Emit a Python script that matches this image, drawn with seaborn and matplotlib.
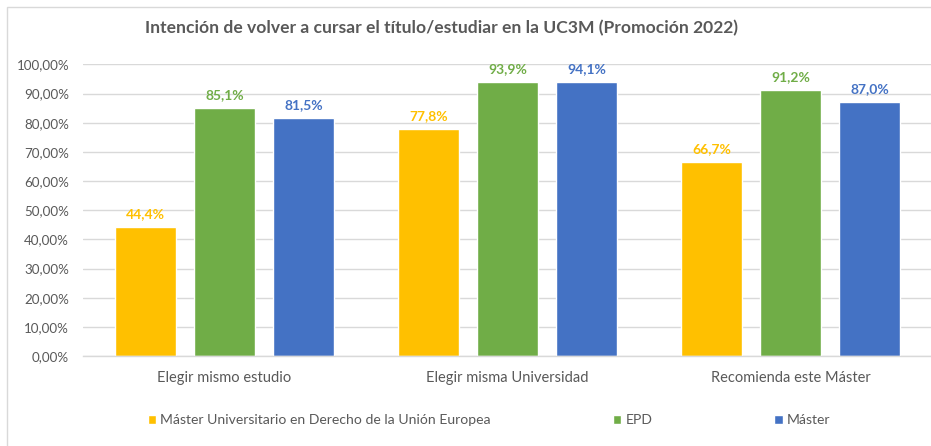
import matplotlib
matplotlib.use("Agg")
import matplotlib.pyplot as plt
import seaborn as sns
import pandas as pd
from matplotlib.patches import Rectangle

categories = ["Elegir mismo estudio", "Elegir misma Universidad", "Recomienda este Máster"]
series_names = ["Máster Universitario en Derecho de la Unión Europea", "EPD", "Máster"]
mude = [44.4, 77.8, 66.7]
epd = [85.1, 93.9, 91.2]
master = [81.5, 94.1, 87.0]
yticks = [0, 10, 20, 30, 40, 50, 60, 70, 80, 90, 100]
title = "Intención de volver a cursar el título/estudiar en la UC3M (Promoción 2022)"

colors = ["#FFC000", "#70AD47", "#4472C4"]

rows = []
for name, vals in zip(series_names, [mude, epd, master]):
    for c, v in zip(categories, vals):
        rows.append({"cat": c, "serie": name, "val": v / 100.0})
df = pd.DataFrame(rows)

sns.set_theme(style="white")
plt.rcParams["font.family"] = ["Lato", "DejaVu Sans"]

fig = plt.figure(figsize=(9.31, 4.46), dpi=100)
ax = fig.add_axes([83 / 931, 1 - 356 / 446, (932 - 83) / 931, (356 - 64.5) / 446])

sns.barplot(data=df, x="cat", y="val", hue="serie", palette=colors,
            width=0.837, gap=0.22, ax=ax, legend=True, saturation=1)

ax.set_ylim(0, 1.0)
ax.set_xlim(-0.5, 2.5)
ax.set_yticks([t / 100 for t in yticks])
ax.set_yticklabels([f"{t},00%" for t in yticks])
ax.yaxis.grid(True, color="#D9D9D9", linewidth=1)
ax.set_axisbelow(True)
for s in ["top", "right", "left"]:
    ax.spines[s].set_visible(False)
ax.spines["bottom"].set_color("#D9D9D9")
ax.spines["bottom"].set_linewidth(1)
ax.tick_params(axis="y", length=0, pad=10, labelsize=9.6, labelcolor="#595959")
ax.tick_params(axis="x", length=0, pad=11, labelsize=10.5, labelcolor="#595959")
ax.set_xlabel("")
ax.set_ylabel("")

for cont, col in zip(ax.containers, colors):
    labels = [f"{b.get_height()*100:.1f}%".replace(".", ",") for b in cont]
    ax.bar_label(cont, labels=labels, padding=5, color=col, fontsize=10, fontweight="bold")

handles, labs = ax.get_legend_handles_labels()
ax.get_legend().remove()
fig.legend(handles, labs, loc="center left", bbox_to_anchor=(135 / 931, 1 - 420 / 446),
           ncol=3, frameon=False, fontsize=10.1, handlelength=0.6, handleheight=0.6,
           handletextpad=0.3, columnspacing=8.7, labelcolor="#595959")

fig.text(441.5 / 931, 1 - 28 / 446, title, ha="center", va="center",
         fontsize=12.6, fontweight="bold", color="#595959")

fig.patches.append(Rectangle((7 / 931, -0.05), 1.0, 1 - 7 / 446 + 0.05,
                             transform=fig.transFigure, fill=False,
                             edgecolor="#D9D9D9", linewidth=1))

fig.savefig("out.png", dpi=100)
